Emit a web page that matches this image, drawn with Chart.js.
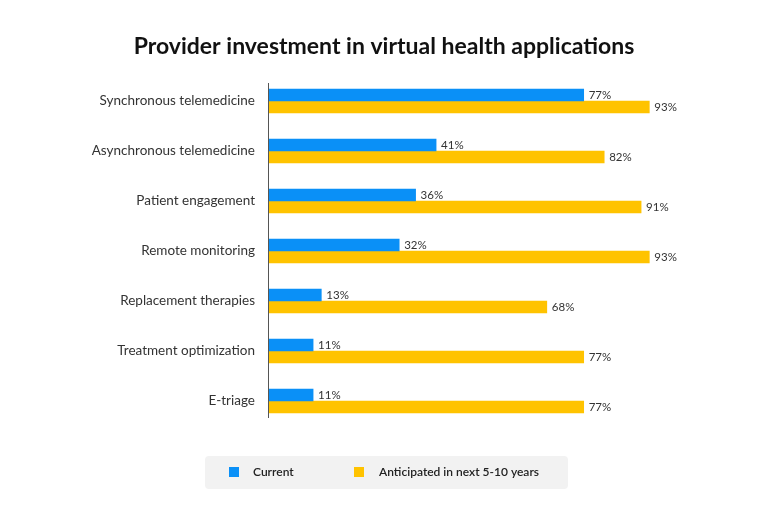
<!DOCTYPE html>
<html>
<head>
<meta charset="utf-8">
<script src="https://cdn.jsdelivr.net/npm/chart.js@4.4.1/dist/chart.umd.min.js"></script>
<style>
  html, body { margin: 0; padding: 0; background: #ffffff; }
  #wrap { width: 768px; height: 532px; position: relative; }
</style>
</head>
<body>
<div id="wrap"><canvas id="investChart"></canvas></div>
<script>
// ===============================
// Data
// ===============================
const categories = [
  "Synchronous telemedicine",
  "Asynchronous telemedicine",
  "Patient engagement",
  "Remote monitoring",
  "Replacement therapies",
  "Treatment optimization",
  "E-triage",
];
const currentValues = [77, 41, 36, 32, 13, 11, 11];
const anticipatedValues = [93, 82, 91, 93, 68, 77, 77];
const seriesNames = ["Current", "Anticipated in next 5-10 years"];
const chartTitle = "Provider investment in virtual health applications";

const BLUE = "#0a90f7";
const YELLOW = "#ffc300";
const FONT = "Lato, 'Open Sans', sans-serif";

// title centred on the page
const pageTitle = {
  id: "pageTitle",
  afterDraw(chart) {
    const ctx = chart.ctx;
    ctx.save();
    ctx.font = "bold 23px " + FONT;
    ctx.fillStyle = "#111111";
    ctx.textAlign = "center";
    ctx.textBaseline = "middle";
    ctx.fillText(chartTitle, 384, 47);
    ctx.restore();
  },
};

// value labels at bar ends
const valueLabels = {
  id: "valueLabels",
  afterDatasetsDraw(chart) {
    const ctx = chart.ctx;
    ctx.save();
    ctx.font = "11.5px " + FONT;
    ctx.fillStyle = "#333333";
    ctx.textAlign = "left";
    ctx.textBaseline = "middle";
    chart.data.datasets.forEach((ds, i) => {
      chart.getDatasetMeta(i).data.forEach((bar, j) => {
        ctx.fillText(ds.data[j] + "%", bar.x + 5, bar.y);
      });
    });
    ctx.restore();
  },
};

// vertical axis line, slightly shorter than the plot area
const axisLine = {
  id: "axisLine",
  afterDraw(chart) {
    const { ctx, chartArea } = chart;
    ctx.save();
    ctx.strokeStyle = "#555555";
    ctx.lineWidth = 1;
    ctx.beginPath();
    ctx.moveTo(chartArea.left + 0.5, chartArea.top + 7);
    ctx.lineTo(chartArea.left + 0.5, chartArea.bottom - 8);
    ctx.stroke();
    ctx.restore();
  },
};

// grey legend box at the bottom
const boxLegend = {
  id: "boxLegend",
  afterDraw(chart) {
    const ctx = chart.ctx;
    ctx.save();
    ctx.fillStyle = "#f2f2f2";
    ctx.beginPath();
    ctx.roundRect(205, 456, 363, 33, 4);
    ctx.fill();

    const items = [
      { sq: 229, tx: 253 },
      { sq: 354, tx: 379 },
    ];
    ctx.font = "600 12px " + FONT;
    ctx.textBaseline = "middle";
    ctx.textAlign = "left";
    chart.data.datasets.forEach((ds, i) => {
      ctx.fillStyle = ds.backgroundColor;
      ctx.fillRect(items[i].sq, 467, 10, 10);
      ctx.fillStyle = "#222222";
      ctx.fillText(ds.label, items[i].tx, 472.5);
    });
    ctx.restore();
  },
};

new Chart(document.getElementById("investChart"), {
  type: "bar",

  data: {
    labels: categories,

    datasets: [
      {
        label: seriesNames[0],
        data: currentValues,
        backgroundColor: BLUE,
        barThickness: 12,
      },
      {
        label: seriesNames[1],
        data: anticipatedValues,
        backgroundColor: YELLOW,
        barThickness: 12,
      },
    ],
  },

  options: {
    indexAxis: "y",
    responsive: true,
    maintainAspectRatio: false,
    animation: false,

    layout: {
      padding: { left: 0, right: 90, top: 76, bottom: 106 },
    },

    plugins: {
      legend: { display: false },
      tooltip: { enabled: false },
      title: { display: false },
    },

    scales: {
      x: {
        display: false,
        min: 0,
        max: 100,
      },

      y: {
        grid: { display: false, drawTicks: false },
        border: { display: false },
        afterFit(scale) {
          scale.width = 268;
        },
        ticks: {
          padding: 13,
          color: "#333333",
          font: { family: FONT, size: 13.5 },
        },
      },
    },
  },

  plugins: [pageTitle, valueLabels, axisLine, boxLegend],
});
</script>
</body>
</html>
